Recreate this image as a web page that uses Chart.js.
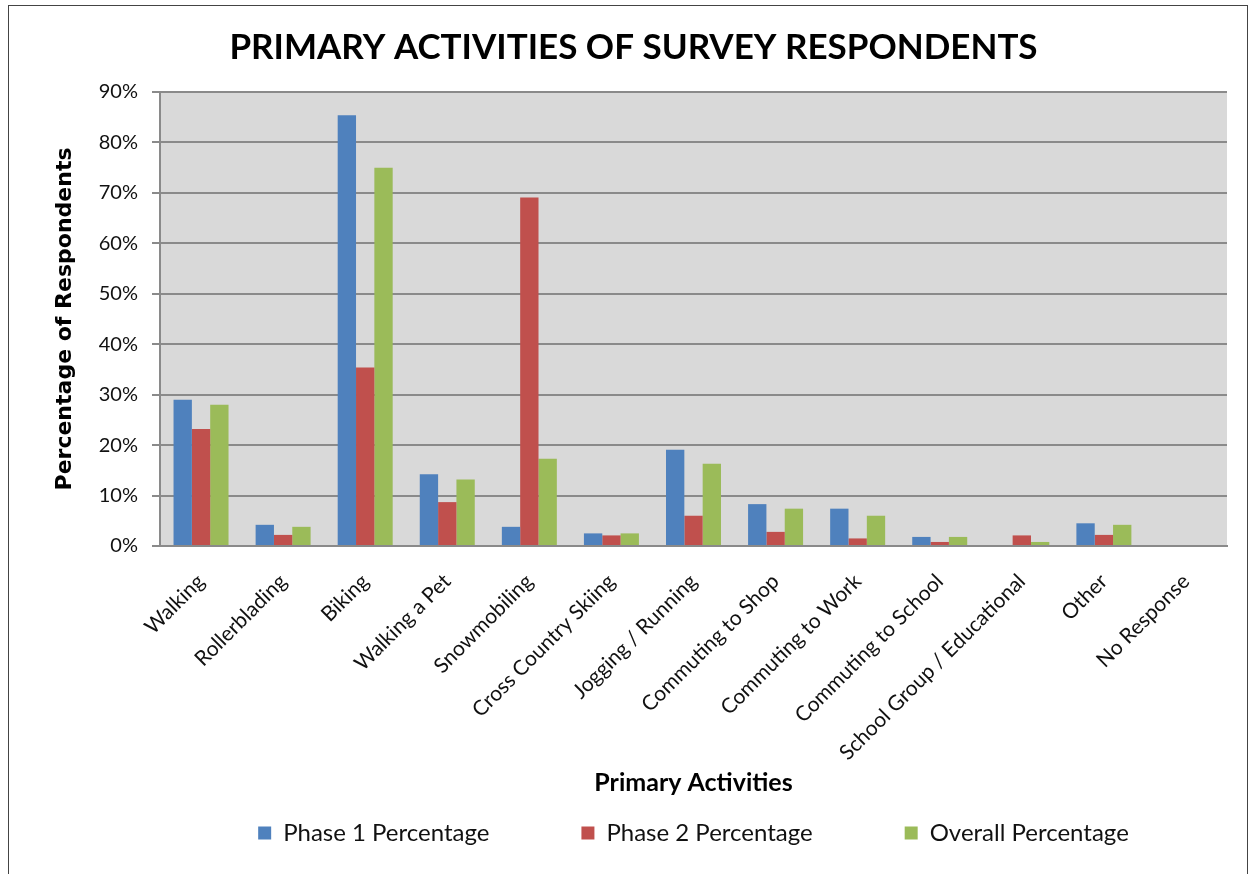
<!DOCTYPE html>
<html>
<head>
<meta charset="utf-8">
<script src="https://cdn.jsdelivr.net/npm/chart.js@4"></script>
<style>
  html, body { margin: 0; padding: 0; background: #fff; }
  #wrap { position: relative; width: 1254px; height: 874px; }
  #frame { position: absolute; left: 8px; top: 5px; width: 1238px; height: 880px; border: 1px solid #444; pointer-events: none; }
</style>
</head>
<body>
<div id="wrap">
  <canvas id="activity-chart" width="1254" height="874"></canvas>
  <div id="frame"></div>
</div>
<script>
var categories = ['Walking', 'Rollerblading', 'Biking', 'Walking a Pet', 'Snowmobiling',
  'Cross Country Skiing', 'Jogging / Running', 'Commuting to Shop', 'Commuting to Work',
  'Commuting to School', 'School Group / Educational', 'Other', 'No Response'];
var phase1 = [29.0, 4.2, 85.4, 14.2, 3.8, 2.5, 19.1, 8.3, 7.4, 1.8, 0, 4.5, 0];
var phase2 = [23.2, 2.2, 35.4, 8.7, 69.1, 2.1, 6.0, 2.8, 1.5, 0.8, 2.1, 2.2, 0];
var overall = [28.0, 3.8, 75.0, 13.2, 17.3, 2.5, 16.3, 7.4, 6.0, 1.8, 0.8, 4.2, 0];
var yTicks = [0, 10, 20, 30, 40, 50, 60, 70, 80, 90];

// grey plot background like the original
var plotBackground = {
  id: 'plotBackground',
  beforeDraw: function (chart) {
    var a = chart.chartArea;
    var ctx = chart.ctx;
    ctx.save();
    ctx.fillStyle = '#d9d9d9';
    ctx.fillRect(a.left, a.top, a.right - a.left, a.bottom - a.top);
    ctx.restore();
  }
};

document.addEventListener('DOMContentLoaded', function () {
  var ctx = document.getElementById('activity-chart').getContext('2d');
  var myChart = new Chart(ctx, {
    type: 'bar',
    data: {
      labels: categories,
      datasets: [
        { label: 'Phase 1 Percentage', data: phase1, backgroundColor: '#4f81bd' },
        { label: 'Phase 2 Percentage', data: phase2, backgroundColor: '#c0504d' },
        { label: 'Overall Percentage', data: overall, backgroundColor: '#9bbb59' }
      ]
    },
    options: {
      responsive: false,
      animation: false,
      categoryPercentage: 0.67,
      barPercentage: 1.0,
      layout: { padding: { left: 40, right: 27, top: 0, bottom: 19 } },
      plugins: {
        title: {
          display: true,
          text: 'PRIMARY ACTIVITIES OF SURVEY RESPONDENTS',
          color: '#000',
          font: { family: 'Lato', size: 35, weight: 'bold' },
          padding: { top: 27, bottom: 23 }
        },
        legend: {
          position: 'bottom',
          fullSize: false,
          labels: {
            color: '#111',
            font: { family: 'Lato', size: 24 },
            boxWidth: 13,
            boxHeight: 13,
            padding: 92
          }
        },
        tooltip: { enabled: false }
      },
      scales: {
        x: {
          grid: { display: false },
          border: { display: true, color: '#8a8a8a', width: 2 },
          ticks: {
            color: '#111',
            font: { family: 'Lato', size: 21 },
            minRotation: 45,
            maxRotation: 45,
            autoSkip: false,
            padding: 15
          },
          title: {
            display: true,
            text: 'Primary Activities',
            color: '#000',
            font: { family: 'Lato', size: 25, weight: 'bold' },
            // the wide legend padding pushes the legend up, so pull the title below its top
            padding: { top: 0, bottom: -69 }
          },
          afterFit: function (scale) {
            scale.height = 183;
            // long rotated labels run past the scale box, don't clip them
            scale._computeLabelArea = function () { return null; };
          }
        },
        y: {
          min: 0,
          max: 90,
          afterBuildTicks: function (scale) {
            scale.ticks = yTicks.map(function (v) { return { value: v }; });
          },
          grid: { color: '#8a8a8a', lineWidth: 2, tickLength: 8 },
          border: { display: true, color: '#8a8a8a', width: 2 },
          ticks: {
            color: '#111',
            font: { family: 'Lato', size: 20 },
            padding: 14,
            callback: function (v) { return v + '%'; }
          },
          title: {
            display: true,
            text: 'Percentage of Respondents',
            color: '#000',
            font: { family: 'DejaVu Sans', size: 22, weight: 'bold' },
            padding: { top: 12, bottom: 0 }
          },
          afterFit: function (scale) { scale.width = 120; }
        }
      }
    },
    plugins: [plotBackground]
  });
});
</script>
</body>
</html>
